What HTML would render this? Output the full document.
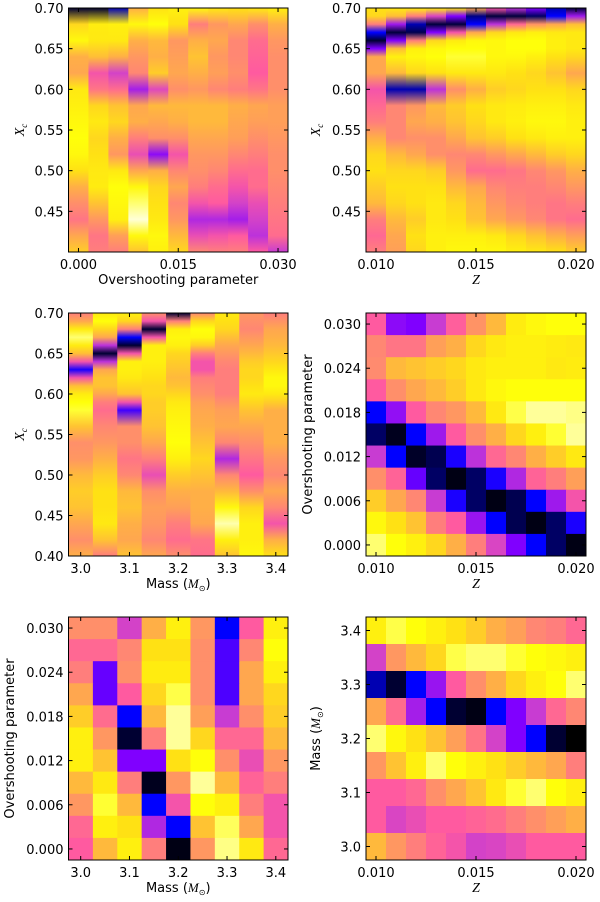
<!DOCTYPE html>
<html><head><meta charset="utf-8"><style>
body{margin:0;background:#fff;}
svg{display:block;font-family:"DejaVu Sans","Liberation Sans",sans-serif;}
</style></head><body>
<svg id="fig" width="600" height="902" viewBox="0 0 600 902" xmlns="http://www.w3.org/2000/svg"><defs id="defs"></defs></svg>
<script>
// ---- data (value 0 = black/best, 1 = white) ----
const xcLevels=[0.70,0.68,0.66,0.64,0.62,0.60,0.58,0.56,0.54,0.52,0.50,0.48,0.46,0.44,0.42,0.40];
const xcLevelsP2=[0.70,0.69,0.68,0.67,0.66,0.65,0.64,0.62,0.60,0.58,0.56,0.54,0.52,0.50,0.48,0.46,0.44,0.42,0.40];
const xcLevelsP3=[0.70,0.69,0.68,0.67,0.66,0.65,0.64,0.63,0.62,0.61,0.60,0.59,0.58,0.56,0.54,0.52,0.50,0.48,0.46,0.44,0.42,0.40];
const ovCats=[0,0.003,0.006,0.009,0.012,0.015,0.018,0.021,0.024,0.027,0.030];
const zCats=[0.010,0.011,0.012,0.013,0.014,0.015,0.016,0.017,0.018,0.019,0.020];
const massCats=[3.0,3.05,3.1,3.15,3.2,3.25,3.3,3.35,3.4];
const p1Values=[
[.05,.8,.88,.72,.7,.84,.86,.88,.9,.88,.82,.72,.64,.58,.7,.78],
[.05,.85,.84,.75,.5,.58,.8,.84,.8,.82,.84,.85,.76,.66,.58,.6],
[.15,.86,.84,.72,.44,.56,.76,.8,.72,.66,.84,.9,.88,.86,.68,.6],
[.72,.88,.72,.66,.62,.36,.7,.72,.6,.48,.7,.88,.95,1.0,.88,.76],
[.82,.9,.74,.72,.78,.46,.74,.7,.64,.32,.72,.8,.82,.84,.88,.86],
[.86,.82,.66,.68,.7,.64,.74,.72,.64,.5,.62,.7,.62,.66,.74,.8],
[.88,.6,.72,.76,.72,.66,.74,.74,.7,.66,.64,.6,.5,.38,.48,.62],
[.84,.66,.7,.66,.68,.62,.74,.74,.7,.66,.62,.56,.52,.38,.5,.6],
[.82,.7,.62,.62,.64,.6,.72,.7,.68,.62,.56,.5,.44,.36,.52,.6],
[.84,.64,.56,.54,.52,.58,.7,.68,.64,.6,.56,.56,.48,.44,.4,.52],
[.86,.72,.66,.64,.64,.64,.68,.68,.66,.64,.64,.62,.6,.58,.56,.42]];
const p2Values=[
[.82,.8,.6,.2,.05,.3,.7,.7,.5,.55,.6,.72,.8,.82,.78,.74,.6,.55,.6],
[.84,.75,.35,.06,.3,.75,.86,.74,.15,.62,.62,.62,.74,.8,.82,.8,.74,.7,.68],
[.86,.6,.15,.08,.6,.86,.88,.8,.15,.66,.7,.64,.7,.8,.82,.82,.78,.82,.8],
[.86,.45,.06,.3,.8,.88,.9,.82,.4,.74,.72,.64,.64,.78,.82,.84,.84,.86,.86],
[.84,.3,.06,.5,.85,.9,.92,.84,.64,.78,.76,.7,.62,.66,.74,.8,.82,.86,.88],
[.7,.12,.2,.7,.88,.9,.92,.84,.72,.82,.8,.76,.62,.56,.7,.74,.76,.86,.88],
[.5,.06,.4,.8,.88,.88,.88,.84,.78,.84,.84,.78,.66,.56,.62,.66,.7,.84,.88],
[.4,.06,.55,.84,.9,.9,.88,.82,.8,.85,.86,.82,.7,.58,.6,.62,.66,.8,.86],
[.3,.1,.65,.86,.9,.9,.86,.8,.82,.86,.88,.84,.74,.62,.6,.6,.62,.76,.84],
[.15,.2,.7,.84,.86,.86,.82,.76,.82,.86,.88,.86,.78,.66,.62,.58,.58,.72,.82],
[.06,.35,.75,.84,.84,.84,.8,.7,.8,.84,.86,.86,.8,.72,.66,.6,.56,.68,.78]];
const p3Values=[
[.6,.7,.85,.95,.85,.75,.5,.22,.5,.75,.85,.9,.92,.76,.64,.66,.74,.78,.76,.7,.64,.72],
[.84,.9,.8,.7,.4,.05,.4,.7,.76,.76,.7,.6,.56,.62,.66,.72,.78,.82,.82,.84,.76,.6],
[.86,.8,.6,.2,.05,.5,.86,.86,.84,.8,.76,.5,.25,.64,.64,.58,.62,.74,.76,.72,.7,.76],
[.64,.5,.05,.5,.86,.86,.86,.84,.82,.8,.8,.78,.78,.76,.7,.6,.48,.64,.68,.66,.62,.7],
[.05,.6,.86,.88,.86,.8,.78,.76,.74,.76,.8,.84,.86,.88,.9,.86,.78,.72,.68,.6,.56,.64],
[.62,.8,.9,.88,.78,.6,.5,.5,.6,.62,.64,.68,.7,.72,.76,.8,.76,.72,.72,.7,.58,.56],
[.84,.82,.8,.75,.7,.66,.62,.6,.6,.6,.6,.64,.68,.7,.62,.38,.62,.74,.88,.98,.86,.76],
[.66,.64,.62,.66,.7,.74,.78,.8,.8,.82,.84,.8,.76,.7,.64,.58,.52,.64,.8,.86,.86,.88],
[.6,.65,.7,.72,.74,.77,.8,.84,.88,.88,.84,.78,.72,.72,.72,.66,.62,.7,.62,.5,.72,.82]];
// rows: overshoot 0.030 -> 0.000 ; cols Z
const p4Values=[
[.52,.32,.3,.42,.53,.65,.74,.85,.88,.9,.9],
[.62,.58,.58,.68,.72,.8,.84,.86,.86,.85,.84],
[.63,.74,.76,.78,.8,.84,.86,.86,.86,.84,.85],
[.52,.64,.7,.74,.78,.84,.88,.9,.9,.9,.9],
[.2,.33,.52,.62,.66,.74,.84,.93,.97,.97,.96],
[.1,.03,.2,.35,.52,.64,.72,.8,.86,.92,.97],
[.42,.2,.04,.08,.22,.4,.55,.62,.72,.78,.84],
[.64,.54,.28,.1,.02,.1,.22,.38,.54,.6,.68],
[.78,.7,.62,.42,.22,.1,.02,.08,.2,.35,.5],
[.88,.82,.76,.6,.52,.34,.2,.08,.02,.1,.22],
[.95,.9,.86,.8,.72,.6,.45,.3,.2,.1,.02]];
// rows: overshoot 0.030 -> 0.000 ; cols mass
const p5Values=[
[.64,.64,.44,.72,.86,.66,.2,.52,.86],
[.55,.55,.62,.82,.82,.64,.26,.62,.9],
[.6,.28,.64,.85,.85,.64,.26,.7,.86],
[.7,.28,.52,.8,.93,.64,.26,.7,.8],
[.78,.56,.2,.74,.97,.68,.42,.64,.78],
[.86,.66,.05,.6,.97,.8,.55,.55,.74],
[.86,.76,.3,.3,.82,.9,.64,.48,.66],
[.74,.84,.6,.03,.66,.97,.74,.54,.6],
[.66,.92,.74,.2,.5,.9,.86,.6,.5],
[.55,.86,.82,.38,.2,.76,.94,.7,.5],
[.52,.74,.86,.6,.02,.66,.96,.84,.55]];
// rows: mass 3.40 -> 3.00 ; cols Z
const p6Values=[
[.86,.93,.9,.86,.82,.78,.72,.68,.62,.6,.55],
[.44,.66,.74,.8,.93,.95,.95,.92,.9,.88,.86],
[.15,.05,.2,.34,.52,.64,.72,.8,.86,.9,.95],
[.7,.56,.36,.2,.05,.02,.2,.3,.42,.55,.62],
[.95,.88,.82,.76,.68,.58,.44,.3,.2,.05,.0],
[.66,.76,.86,.95,.9,.86,.82,.78,.74,.7,.6],
[.52,.52,.55,.64,.7,.76,.84,.92,.95,.9,.86],
[.52,.45,.48,.52,.52,.54,.56,.6,.64,.68,.72],
[.74,.66,.6,.54,.5,.44,.45,.48,.52,.52,.52]];
const ovTicks=[0,0.006,0.012,0.018,0.024,0.030];
const ovTicksX=[0,0.015,0.030];
const zTicks=[0.010,0.015,0.020];
const massTicks=[3.0,3.1,3.2,3.3,3.4];
const xcTicksTop=[0.45,0.50,0.55,0.60,0.65,0.70];
const xcTicksFull=[0.40,0.45,0.50,0.55,0.60,0.65,0.70];

// ---- colormap ----
const cmStops=[[0,[0,0,0]],[0.1,[0,0,100]],[0.2,[0,0,255]],[0.3,[128,0,255]],[0.42,[200,60,210]],[0.52,[255,90,160]],[0.62,[255,135,115]],[0.72,[255,175,70]],[0.82,[255,225,20]],[0.9,[255,255,10]],[1.0,[255,255,215]]];
function cmap(v){v=Math.max(0,Math.min(1,v));for(let i=1;i<cmStops.length;i++){if(v<=cmStops[i][0]){const a=cmStops[i-1],b=cmStops[i];const t=(v-a[0])/(b[0]-a[0]);const c=a[1].map((x,k)=>Math.round(x+(b[1][k]-x)*t));return `rgb(${c[0]},${c[1]},${c[2]})`;}}return 'rgb(255,255,215)';}

const NS='http://www.w3.org/2000/svg';
const svg=document.getElementById('fig'),defs=document.getElementById('defs');
function el(tag,attrs,parent){const e=document.createElementNS(NS,tag);for(const k in attrs)e.setAttribute(k,attrs[k]);(parent||svg).appendChild(e);return e;}
function lin(d0,d1,r0,r1){return v=>r0+(v-d0)/(d1-d0)*(r1-r0);}
let gid=0;

function panel(name,x0,x1,y0,y1,xd,yd){
  const g=el('g',{});
  
  
  return {g,x0,x1,y0,y1,sx:lin(xd[0],xd[1],x0,x1),sy:lin(yd[0],yd[1],y1,y0)};
}
function gradCols(P,cats,step,levels,vals){
  cats.forEach((c,i)=>{
    const id='gr'+(gid++);
    const lg=el('linearGradient',{id,gradientUnits:'userSpaceOnUse'},defs);
    lg.setAttribute('x1',0);lg.setAttribute('y1',P.y0);lg.setAttribute('x2',0);lg.setAttribute('y2',P.y1);
    levels.forEach((lv,j)=>{const off=(P.sy(lv)-P.y0)/(P.y1-P.y0);el('stop',{offset:Math.max(0,Math.min(1,off)),'stop-color':cmap(vals[i][j])},lg);});
    const xa=P.sx(c-step/2),xb=P.sx(c+step/2);
    const r=el('rect',{x:xa,y:P.y0,width:xb-xa+0.5,height:P.y1-P.y0,fill:`url(#${id})`},P.g);
    
    
  });
}
function gridCells(P,xc,xs,yc,ys,vals){
  yc.forEach((yv,r)=>xc.forEach((xv,c)=>{
    const xa=P.sx(xv-xs/2),xb=P.sx(xv+xs/2),ya=P.sy(yv+ys/2),yb=P.sy(yv-ys/2);
    const e=el('rect',{x:xa,y:ya,width:xb-xa+0.5,height:yb-ya+0.5,fill:cmap(vals[r][c])},P.g);
    
    
  }));
}
function axes(P,xt,xfmt,yt,yfmt,xlab,ylab,ylabX){
  const f=el('rect',{x:P.x0,y:P.y0,width:P.x1-P.x0,height:P.y1-P.y0,fill:'none',stroke:'#000','stroke-width':1},P.g);
  
  
  xt.forEach(v=>{const x=P.sx(v);
    el('line',{x1:x,y1:P.y1,x2:x,y2:P.y1-4,stroke:'#000'},P.g);el('line',{x1:x,y1:P.y0,x2:x,y2:P.y0+4,stroke:'#000'},P.g);
    const t=el('text',{x:x,y:P.y1+17,'font-size':13,'text-anchor':'middle'},P.g);t.textContent=xfmt(v);
    
    });
  yt.forEach(v=>{const y=P.sy(v);
    el('line',{x1:P.x0,y1:y,x2:P.x0+4,y2:y,stroke:'#000'},P.g);el('line',{x1:P.x1,y1:y,x2:P.x1-4,y2:y,stroke:'#000'},P.g);
    const t=el('text',{x:P.x0-5,y:y+5,'font-size':13,'text-anchor':'end'},P.g);t.textContent=yfmt(v);
    
    });
  const xl=el('g',{transform:`translate(${(P.x0+P.x1)/2},${P.y1+32})`},P.g);
  
  
  xl.innerHTML=xlab;
  const yl=el('g',{transform:`translate(${ylabX},${(P.y0+P.y1)/2}) rotate(-90)`},P.g);
  
  
  yl.innerHTML=ylab;
}
const f3=v=>v.toFixed(3),f2=v=>v.toFixed(2),f1=v=>v.toFixed(1);
const L_OV='<text text-anchor="middle" font-size="13">Overshooting parameter</text>';
const L_Z='<text text-anchor="middle" font-size="14" font-style="italic" font-family="Liberation Serif,serif">Z</text>';
const L_XC='<text text-anchor="middle" font-size="14" font-style="italic" font-family="Liberation Serif,serif">X<tspan font-size="9" dy="3">c</tspan></text>';
const L_M='<text text-anchor="middle" font-size="13">Mass (<tspan font-style="italic" font-family="Liberation Serif,serif">M</tspan><tspan font-size="8" dy="3">⊙</tspan><tspan dy="-3">)</tspan></text>';

const ovD=[-0.0015,0.0315],zD=[0.0095,0.0205],mD=[2.975,3.425],xcD=[0.40,0.70];
let P;
P=panel('panel-xc-vs-overshoot',68.5,288,8,252,ovD,xcD);gradCols(P,ovCats,0.003,xcLevels,p1Values);axes(P,ovTicksX,f3,xcTicksTop,f2,L_OV,L_XC,24);
P=panel('panel-xc-vs-z',366,586,8,252,zD,xcD);gradCols(P,zCats,0.001,xcLevelsP2,p2Values);axes(P,zTicks,f3,xcTicksTop,f2,L_Z,L_XC,320);
P=panel('panel-xc-vs-mass',68.5,288,313,556,mD,xcD);gradCols(P,massCats,0.05,xcLevelsP3,p3Values);axes(P,massTicks,f1,xcTicksFull,f2,L_M,L_XC,24);
P=panel('panel-overshoot-vs-z',366,586,313,556,zD,ovD);gridCells(P,zCats,0.001,ovCats.slice().reverse(),0.003,p4Values);axes(P,zTicks,f3,ovTicks,f3,L_Z,L_OV,312);
P=panel('panel-overshoot-vs-mass',68.5,288,617,860,mD,ovD);gridCells(P,massCats,0.05,ovCats.slice().reverse(),0.003,p5Values);axes(P,massTicks,f1,ovTicks,f3,L_M,L_OV,14);
P=panel('panel-mass-vs-z',366,586,617,860,zD,mD);gridCells(P,zCats,0.001,massCats.slice().reverse(),0.05,p6Values);axes(P,zTicks,f3,massTicks,f1,L_Z,L_M,320);
</script>
</body></html>
